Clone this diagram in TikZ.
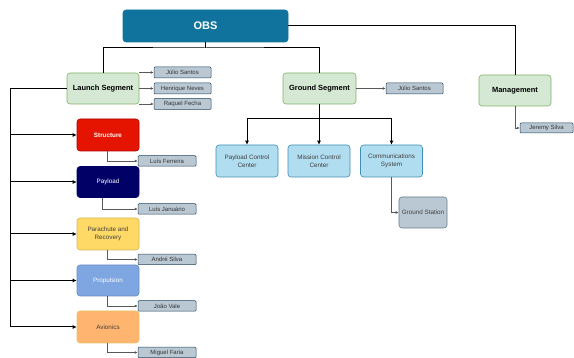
\documentclass[tikz,border=0pt]{standalone}
\usepackage{fontspec}
\setmainfont{Liberation Sans}
\usetikzlibrary{arrows.meta}
\definecolor{obsblue}{HTML}{10739E}
\definecolor{lgreen}{HTML}{D5E8D4}
\definecolor{dgreen}{HTML}{82B366}
\definecolor{namefill}{HTML}{BAC8D3}
\definecolor{nameborder}{HTML}{23445D}
\definecolor{lblue}{HTML}{B1DDF0}
\definecolor{structred}{HTML}{E51400}
\definecolor{structborder}{HTML}{B20000}
\definecolor{navy}{HTML}{000066}
\definecolor{yell}{HTML}{FFD966}
\definecolor{yellborder}{HTML}{D6B656}
\definecolor{propblue}{HTML}{7EA6E0}
\definecolor{propborder}{HTML}{6C8EBF}
\definecolor{avorange}{HTML}{FFB570}
\definecolor{avborder}{HTML}{D79B00}
\tikzset{
  box/.style={draw, rounded corners=3pt, line width=0.6pt, inner sep=1pt, align=center, minimum width=62pt, minimum height=32pt},
  segbox/.style={box, fill=lgreen, draw=dgreen, minimum width=72pt, minimum height=31pt, font=\fontsize{7.5}{9}\selectfont\bfseries},
  namebox/.style={draw=nameborder, fill=namefill, rounded corners=1pt, line width=0.5pt, inner sep=0pt, minimum width=57pt, minimum height=11pt, font=\fontsize{6}{7}\selectfont, text=black!80},
  subbox/.style={box, font=\fontsize{6.3}{8}\selectfont},
  gbox/.style={box, fill=lblue, draw=obsblue!80, font=\fontsize{6.3}{8}\selectfont, text=black!75},
  mainline/.style={line width=1pt, black},
  mainarrow/.style={mainline, -{Latex[length=4pt,width=4pt]}},
  thinarrow/.style={line width=0.6pt, black!65, -{Latex[length=3pt,width=3pt]}},
}
\begin{document}
\begin{tikzpicture}[x=1pt,y=-1pt]
\useasboundingbox (0,0) rectangle (574,358);
% top
\node[box, fill=obsblue, draw=obsblue, minimum width=165pt, text=white, font=\fontsize{11}{13}\selectfont\bfseries] (obs) at (205.5,26) {OBS};
\node[segbox] (launch) at (103,88.5) {Launch Segment};
\node[segbox, minimum width=73pt] (ground) at (319.5,88.5) {Ground Segment};
\node[segbox] (mgmt) at (515,90.5) {Management};
% launch names
\node[namebox] (js1) at (182.5,72.5) {Júlio Santos};
\node[namebox] (hn) at (182.5,88.5) {Henrique Neves};
\node[namebox] (rf) at (182.5,104) {Raquel Fecha};
% subsystems
\node[subbox, fill=structred, draw=structborder, text=white] (struct) at (108,135) {\bfseries Structure};
\node[namebox, minimum width=58pt, minimum height=10.5pt] (lf) at (167,161) {Luís Ferreira};
\node[subbox, fill=navy, draw=navy, text=white, minimum height=31pt] (payload) at (108,182) {Payload};
\node[namebox, minimum width=58pt, minimum height=10.5pt] (lj) at (167,209) {Luís Januário};
\node[subbox, fill=yell, draw=yellborder, text=black!75] (para) at (108,234) {Parachute and\\Recovery};
\node[namebox, minimum width=58pt, minimum height=10.5pt] (as) at (167,259.5) {André Silva};
\node[subbox, fill=propblue, draw=propborder, text=white, minimum height=31pt] (prop) at (108,280.5) {Propulsion};
\node[namebox, minimum width=58pt, minimum height=10.5pt] (jv) at (167,306) {João Vale};
\node[subbox, fill=avorange, draw=avborder!60, text=black!75] (avi) at (108,327) {Avionics};
\node[namebox, minimum width=58pt, minimum height=10.5pt] (mf) at (167,352.5) {Miguel Faria};
% ground
\node[namebox] (js2) at (414.5,88.5) {Júlio Santos};
\node[gbox] (pcc) at (247,161) {Payload Control\\Center};
\node[gbox] (mcc) at (319,161) {Mission Control\\Center};
\node[gbox] (cs) at (391.5,161) {Communications\\System};
\node[box, fill=namefill, draw=nameborder!70, minimum width=48pt, minimum height=31pt, font=\fontsize{6.3}{8}\selectfont, text=black!75] (gst) at (423,212.5) {Ground Station};
% management
\node[namebox, minimum width=53pt, minimum height=10pt] (jer) at (546.5,128) {Jeremy Silva};
% coordinates
\coordinate (bustop) at (205.5,48);
\coordinate (lb) at (10,88.5);
\coordinate (gb) at (319.5,119);
% main connectors
\draw[mainline] (obs.south) -- (bustop);
\draw[mainline] (launch.north) |- (bustop) -| (ground.north);
\draw[mainline] (obs.east) -| (mgmt.north);
\draw[mainline] (launch.west) -- (lb);
\foreach \n in {struct,payload,para,prop,avi}{
  \draw[mainarrow] (lb) |- (\n.west);
}
\draw[mainline] (ground.south) -- (gb);
\foreach \n in {pcc,mcc,cs}{
  \draw[mainarrow] (gb) -| (\n.north);
}
% name connectors
\foreach \n in {js1,hn,rf}{
  \draw[thinarrow] (launch.east |- \n.west) -- (\n.west);
}
\draw[thinarrow] ([xshift=-1pt]struct.south) |- (lf.west);
\draw[thinarrow] ([xshift=-6pt]payload.south) |- (lj.west);
\draw[thinarrow] ([xshift=-1pt]para.south) |- (as.west);
\draw[thinarrow] ([xshift=-1pt]prop.south) |- (jv.west);
\draw[thinarrow] ([xshift=-1pt]avi.south) |- (mf.west);
\draw[thinarrow] (ground.east) -- (js2.west);
\draw[thinarrow] (cs.south) |- (gst.west);
\draw[thinarrow] (mgmt.south) |- (jer.west);
\end{tikzpicture}
\end{document}
